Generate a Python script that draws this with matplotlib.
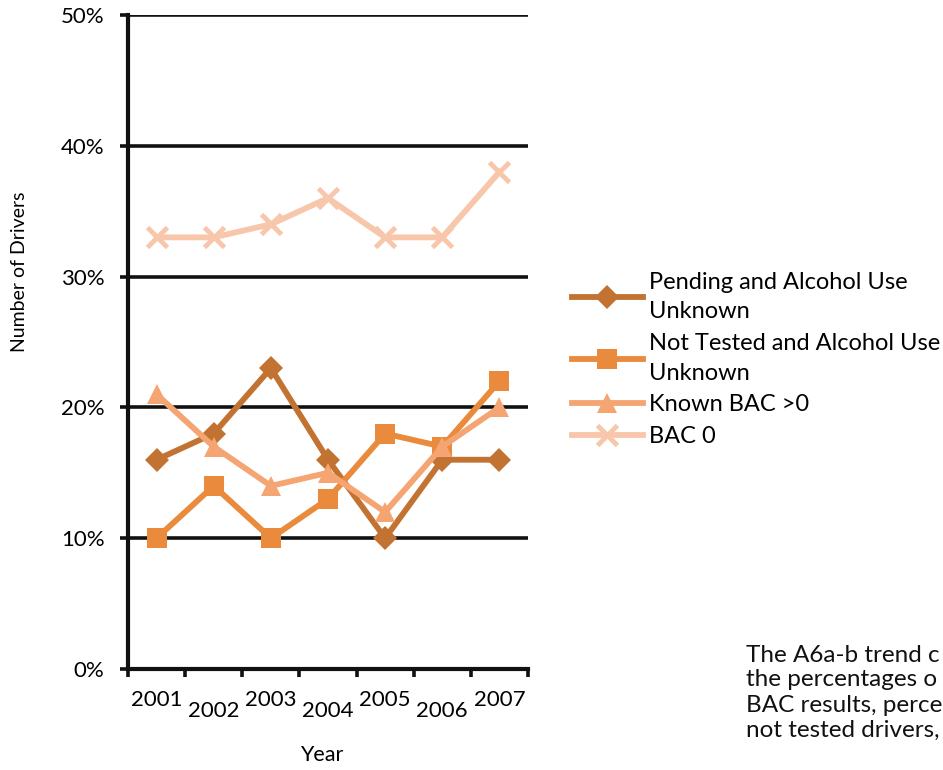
import matplotlib
matplotlib.use("Agg")
import matplotlib.pyplot as plt
import matplotlib.transforms as mtrans
import numpy as np

years = ["2001", "2002", "2003", "2004", "2005", "2006", "2007"]
pending = [16, 18, 23, 16, 10, 16, 16]
not_tested = [10, 14, 10, 13, 18, 17, 22]
known_bac = [21, 17, 14, 15, 12, 17, 20]
bac0 = [33, 33, 34, 36, 33, 33, 38]
labels = ["Pending and Alcohol Use\nUnknown", "Not Tested and Alcohol Use\nUnknown",
          "Known BAC >0", "BAC 0"]
colors = ["#C27331", "#E98A3D", "#F4A571", "#F8C7AB"]
markers = ["D", "s", "^", "x"]
note_lines = ["The A6a-b trend c", "the percentages o", "BAC results, perce", "not tested drivers,"]

plt.rcParams['font.family'] = ['Lato', 'DejaVu Sans']

fig = plt.figure(figsize=(9.43, 7.7), dpi=100)
ax = fig.add_axes([128/943, 1-669/770, 400/943, 654/770])

x = np.arange(len(years))
series = [pending, not_tested, known_bac, bac0]
sizes = [12, 14, 15, 14]
for s, lab, c, m, ms in zip(series, labels, colors, markers, sizes):
    kw = dict(markeredgewidth=3.5) if m == "x" else dict(markeredgewidth=0)
    ax.plot(x, s, color=c, lw=4.2, marker=m, markersize=ms, label=lab,
            markerfacecolor=c, markeredgecolor=c, zorder=3, **kw)

ax.set_xlim(-0.5, len(years) - 0.5)
ax.set_ylim(0, 50)
ax.set_yticks(np.arange(0, 51, 10))
ax.set_yticklabels([f"{v}%" for v in range(0, 51, 10)], fontsize=16)
for v in range(10, 51, 10):
    ax.axhline(v, color="#111111", lw=2.6, zorder=1)

ax.set_xticks(np.arange(-0.5, len(years), 1))
ax.set_xticklabels([])
ax.tick_params(axis="x", length=6, width=2.6, color="#111111", direction="out")
ax.tick_params(axis="y", length=6, width=2.6, color="#111111", direction="out", pad=11)
for sp in ["top", "right"]:
    ax.spines[sp].set_visible(False)
for sp in ["left", "bottom"]:
    ax.spines[sp].set_linewidth(3)
    ax.spines[sp].set_color("#111111")

tr = mtrans.blended_transform_factory(ax.transData, fig.transFigure)
for i, yr in enumerate(years):
    ypix = 700 if i % 2 == 0 else 711
    ax.text(i, 1 - ypix / 770, yr, transform=tr, ha="center", va="center", fontsize=16)

fig.text(322/943, 1 - 755/770, "Year", ha="center", va="center", fontsize=15.5)
fig.text(20/943, 1 - 272/770, "Number of Drivers", ha="center", va="center",
         rotation=90, fontsize=14)

leg = fig.legend(loc="upper left", bbox_to_anchor=(572/943, 1 - 272/770), frameon=False,
                 fontsize=17, handlelength=3.0, handletextpad=0.25, labelspacing=0.45,
                 borderaxespad=0, borderpad=0)
for t in leg.get_texts():
    t.set_linespacing(1.5)

# note text at bottom right (cut by the page edge in the source)
renderer = fig.canvas.get_renderer()
probe = fig.text(0, 0, note_lines[1], fontsize=20)
w = probe.get_window_extent(renderer).width
probe.remove()
fs = 20 * 192 / w
for k, line in enumerate(note_lines):
    fig.text(746/943, 1 - (655 + 25 * k)/770, line, ha="left", va="center", fontsize=fs,
             color="#111111")

fig.savefig("out.png", dpi=100)
